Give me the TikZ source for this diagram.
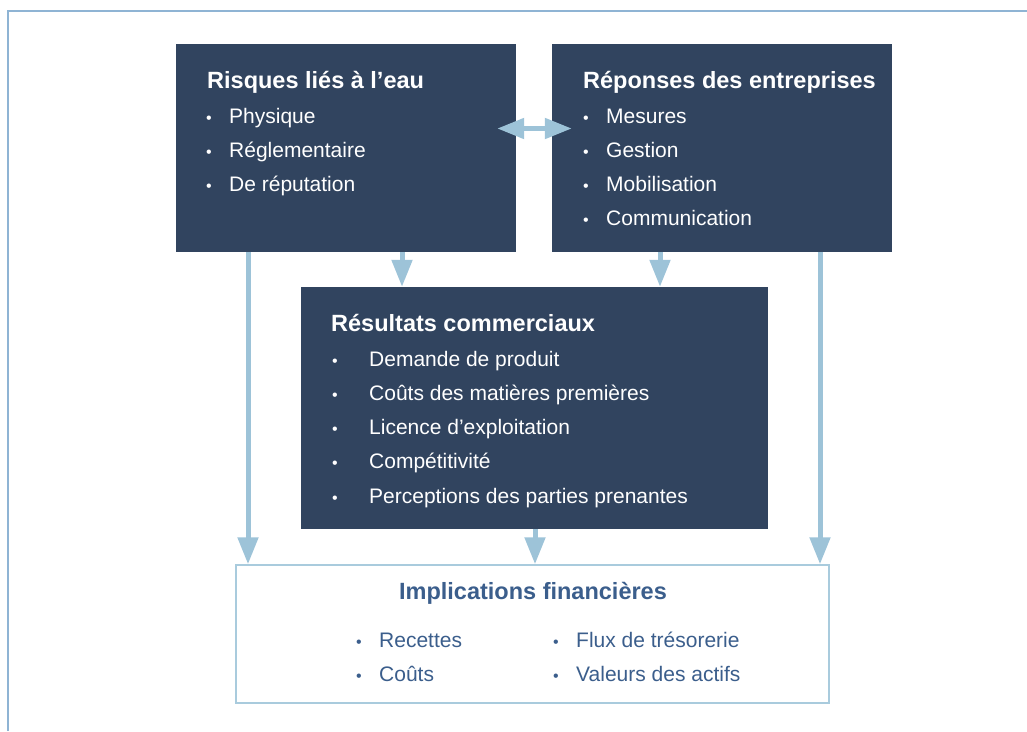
\documentclass[tikz,border=0pt]{standalone}
\usepackage{fontspec}
\setmainfont{Liberation Sans}
\usetikzlibrary{arrows.meta}
\definecolor{navy}{HTML}{31445F}
\definecolor{arrowblue}{HTML}{9DC3D8}
\definecolor{frameblue}{HTML}{8FB4D4}
\definecolor{boxline}{HTML}{A9CBDD}
\definecolor{textblue}{HTML}{3B5E8C}
\tikzset{
  darkbox/.style={draw=none, fill=navy, rectangle, inner sep=0pt},
  lightbox/.style={draw=boxline, line width=1.5pt, fill=white, rectangle, inner sep=0pt},
  boxtitle/.style={anchor=base west, inner sep=0pt, font=\fontsize{23.5}{28}\selectfont\bfseries},
  boxtitlec/.style={anchor=base, inner sep=0pt, font=\fontsize{23.5}{28}\selectfont\bfseries},
  item/.style={anchor=base west, inner sep=0pt, font=\fontsize{21}{25}\selectfont},
  bul/.style={anchor=base, inner sep=0pt, font=\fontsize{16}{20}\selectfont},
  arr/.style={draw=arrowblue, line width=5pt, -{Triangle[width=20pt,length=27pt]}},
  darr/.style={draw=arrowblue, line width=5pt, {Triangle[width=20pt,length=27pt]}-{Triangle[width=20pt,length=27pt]}},
}
\begin{document}
\begin{tikzpicture}[x=1pt,y=-1pt]
\useasboundingbox (0,0) rectangle (1027,731);
% outer frame
\draw[frameblue, line width=1.5pt] (8,731) -- (8,11) -- (1027,11);

% boxes
\node[darkbox, minimum width=340pt, minimum height=208pt] (A) at (346,148) {};
\node[darkbox, minimum width=340pt, minimum height=208pt] (B) at (722,148) {};
\node[darkbox, minimum width=467pt, minimum height=242pt] (C) at (534.5,408) {};
\node[lightbox, minimum width=593pt, minimum height=138pt] (D) at (532.5,634) {};

% texts A
\node[boxtitle, text=white] (At) at (207,88) {Risques liés à l’eau};
\foreach \t [count=\i] in {Physique,Réglementaire,De réputation}{
  \node[bul, text=white] (Ab\i) at (209,123+34*\i-34) {•};
  \node[item, text=white] (Ai\i) at (229,123+34*\i-34) {\t};
}
% texts B
\node[boxtitle, text=white] (Bt) at (583,88) {Réponses des entreprises};
\foreach \t [count=\i] in {Mesures,Gestion,Mobilisation,Communication}{
  \node[bul, text=white] (Bb\i) at (586,123+34.3*\i-34.3) {•};
  \node[item, text=white] (Bi\i) at (606,123+34.3*\i-34.3) {\t};
}
% texts C
\node[boxtitle, text=white] (Ct) at (331,331) {Résultats commerciaux};
\foreach \t [count=\i] in {Demande de produit,Coûts des matières premières,Licence d’exploitation,Compétitivité,Perceptions des parties prenantes}{
  \node[bul, text=white] (Cb\i) at (335,366+34.3*\i-34.3) {•};
  \node[item, text=white] (Ci\i) at (369,366+34.3*\i-34.3) {\t};
}
% texts D
\node[boxtitlec, text=textblue] (Dt) at (533,599) {Implications financières};
\node[bul, text=textblue] (Db1) at (359,647) {•};
\node[item, text=textblue] (Di1) at (379,647) {Recettes};
\node[bul, text=textblue] (Db2) at (359,681) {•};
\node[item, text=textblue] (Di2) at (379,681) {Coûts};
\node[bul, text=textblue] (Db3) at (556,647) {•};
\node[item, text=textblue] (Di3) at (576,647) {Flux de trésorerie};
\node[bul, text=textblue] (Db4) at (556,681) {•};
\node[item, text=textblue] (Di4) at (576,681) {Valeurs des actifs};

% x positions for connectors
\coordinate (xl) at (248,0);
\coordinate (xac) at (402,0);
\coordinate (xbc) at (660,0);
\coordinate (xcd) at (535,0);
\coordinate (xr) at (820,0);
\coordinate (ym) at (0,128.5);

\draw[arr] (A.south -| xl) -- (D.north -| xl);
\draw[arr] (B.south -| xr) -- (D.north -| xr);
\draw[arr] (A.south -| xac) -- (C.north -| xac);
\draw[arr] (B.south -| xbc) -- (C.north -| xbc);
\draw[arr] (C.south -| xcd) -- (D.north -| xcd);
\draw[darr] ([xshift=-19pt]A.east |- ym) -- ([xshift=20pt]B.west |- ym);
\end{tikzpicture}
\end{document}
